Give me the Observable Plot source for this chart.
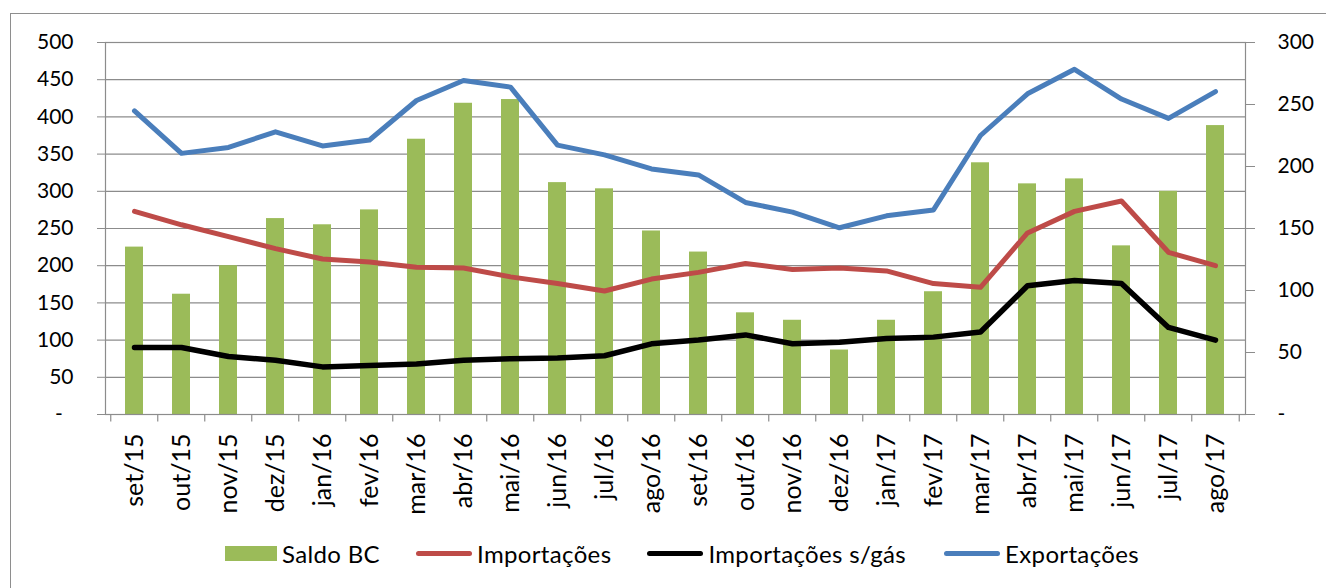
<!DOCTYPE html>
<html>
<head>
<meta charset="utf-8">
<script src="https://cdn.jsdelivr.net/npm/d3@7"></script>
<script src="https://cdn.jsdelivr.net/npm/@observablehq/plot@0.6"></script>
<style>
  html, body { margin: 0; padding: 0; background: #fff; overflow: hidden; width: 1326px; height: 588px; }
  #frame { position: absolute; left: 10px; top: 13px; width: 1400px; height: 700px; border: 1.5px solid #8e8e8e; box-sizing: border-box; }
  #chart { position: absolute; left: 0; top: 0; }
  #legend { position: absolute; left: 225px; top: 538px; height: 30px; display: flex; align-items: center; font-family: Lato, sans-serif; font-size: 24px; letter-spacing: 0.35px; color: #000; white-space: nowrap; }
  .sw { display: inline-block; width: 52px; height: 15px; margin-right: 5px; }
  .ln { display: inline-block; width: 56px; height: 5px; border-radius: 3px; margin-right: 5px; }
  .item { display: flex; align-items: center; }
</style>
</head>
<body>
<div id="frame"></div>
<div id="chart"></div>
<div id="legend"></div>
<script>
// ---- Data ----
const months = ["set/15","out/15","nov/15","dez/15","jan/16","fev/16","mar/16","abr/16","mai/16","jun/16","jul/16","ago/16",
                "set/16","out/16","nov/16","dez/16","jan/17","fev/17","mar/17","abr/17","mai/17","jun/17","jul/17","ago/17"];
const exportacoes = [408, 351, 359, 380, 361, 369, 422, 449, 440, 362, 349, 330, 322, 285, 272, 251, 267, 275, 375, 431, 464, 424, 398, 434];
const importacoes = [273, 255, 239, 223, 209, 205, 198, 197, 185, 176, 166, 182, 191, 203, 195, 197, 193, 176, 171, 244, 273, 287, 218, 200];
const importacoesSemGas = [90, 90, 78, 73, 64, 66, 68, 73, 75, 76, 79, 95, 100, 107, 95, 97, 102, 104, 111, 173, 180, 176, 117, 100];
const saldoBC = [135, 97, 120, 158, 153, 165, 222, 251, 254, 187, 182, 148, 131, 82, 76, 52, 76, 99, 203, 186, 190, 136, 180, 233];
const leftTicks = [0, 50, 100, 150, 200, 250, 300, 350, 400, 450, 500];
const rightTicks = [0, 50, 100, 150, 200, 250, 300];
const seriesNames = ["Saldo BC", "Importações", "Importações s/gás", "Exportações"];
const seriesColors = ["#9BBB59", "#BE4B48", "#000000", "#4A7EBB"];

// ---- Layout ----
const W = 1326, H = 520, mL = 105, mR = 81, mT = 42, mB = 106;
const step = (W - mL - mR) / months.length;
const leftMax = 500, rightMax = 300, k = leftMax / rightMax;
const gridColor = "#8c8c8c";

const data = months.map((m, i) => ({
  m, exp: exportacoes[i], imp: importacoes[i], impSG: importacoesSemGas[i], saldo: saldoBC[i]
}));

const lineOpts = (key, color, w) => ({
  x: "m", y: key, stroke: color, strokeWidth: w, strokeLinejoin: "round", strokeLinecap: "round"
});

const chart = Plot.plot({
  width: W, height: H,
  marginLeft: mL, marginRight: mR, marginTop: mT, marginBottom: mB,
  style: { fontFamily: "Lato, sans-serif", fontSize: "21px", color: "#000", background: "transparent", overflow: "visible" },
  x: { domain: months, paddingInner: 0.614, paddingOuter: 0.307, label: null },
  y: { domain: [0, leftMax], label: null },
  marks: [
    Plot.ruleY(leftTicks.filter(d => d > 0), { y: d => d, stroke: gridColor, strokeWidth: 1.2 }),
    Plot.barY(data, { x: "m", y: d => d.saldo * k, fill: seriesColors[0] }),
    Plot.frame({ stroke: gridColor, strokeWidth: 1.2 }),
    Plot.lineY(data, lineOpts("imp", seriesColors[1], 5)),
    Plot.lineY(data, lineOpts("impSG", seriesColors[2], 5.5)),
    Plot.lineY(data, lineOpts("exp", seriesColors[3], 5)),
    Plot.axisY({ anchor: "left", ticks: leftTicks, tickSize: 8, tickPadding: 24, label: null,
      stroke: gridColor, fill: "#000", fontSize: 21,
      tickFormat: d => d === 0 ? "-\u00a0\u00a0" : String(d) }),
    Plot.axisY({ anchor: "right", ticks: rightTicks.map(v => v * k), tickSize: 9, tickPadding: 23, label: null,
      stroke: gridColor, fill: "#000", fontSize: 21,
      tickFormat: d => { const r = Math.round(d / k); return r === 0 ? "-" : String(r); } }),
    Plot.axisX({ tickSize: 0, tickRotate: -90, tickPadding: 19, label: null, fill: "#000", fontSize: 25 }),
    Plot.ruleX(months, { x: d => d, y1: 0, y2: -10, dx: -step / 2, stroke: gridColor, strokeWidth: 1.2 }),
    Plot.ruleX(months.slice(-1), { x: d => d, y1: 0, y2: -10, dx: step / 2, stroke: gridColor, strokeWidth: 1.2 })
  ]
});
document.getElementById("chart").appendChild(chart);

// ---- Legend ----
const legend = document.getElementById("legend");
const gaps = [36, 36, 38];
seriesNames.forEach((name, i) => {
  const item = document.createElement("div");
  item.className = "item";
  if (i > 0) item.style.marginLeft = gaps[i - 1] + "px";
  const sw = document.createElement("span");
  sw.className = i === 0 ? "sw" : "ln";
  sw.style.background = seriesColors[i];
  const tx = document.createElement("span");
  tx.textContent = name;
  item.appendChild(sw); item.appendChild(tx);
  legend.appendChild(item);
});
</script>
</body>
</html>
